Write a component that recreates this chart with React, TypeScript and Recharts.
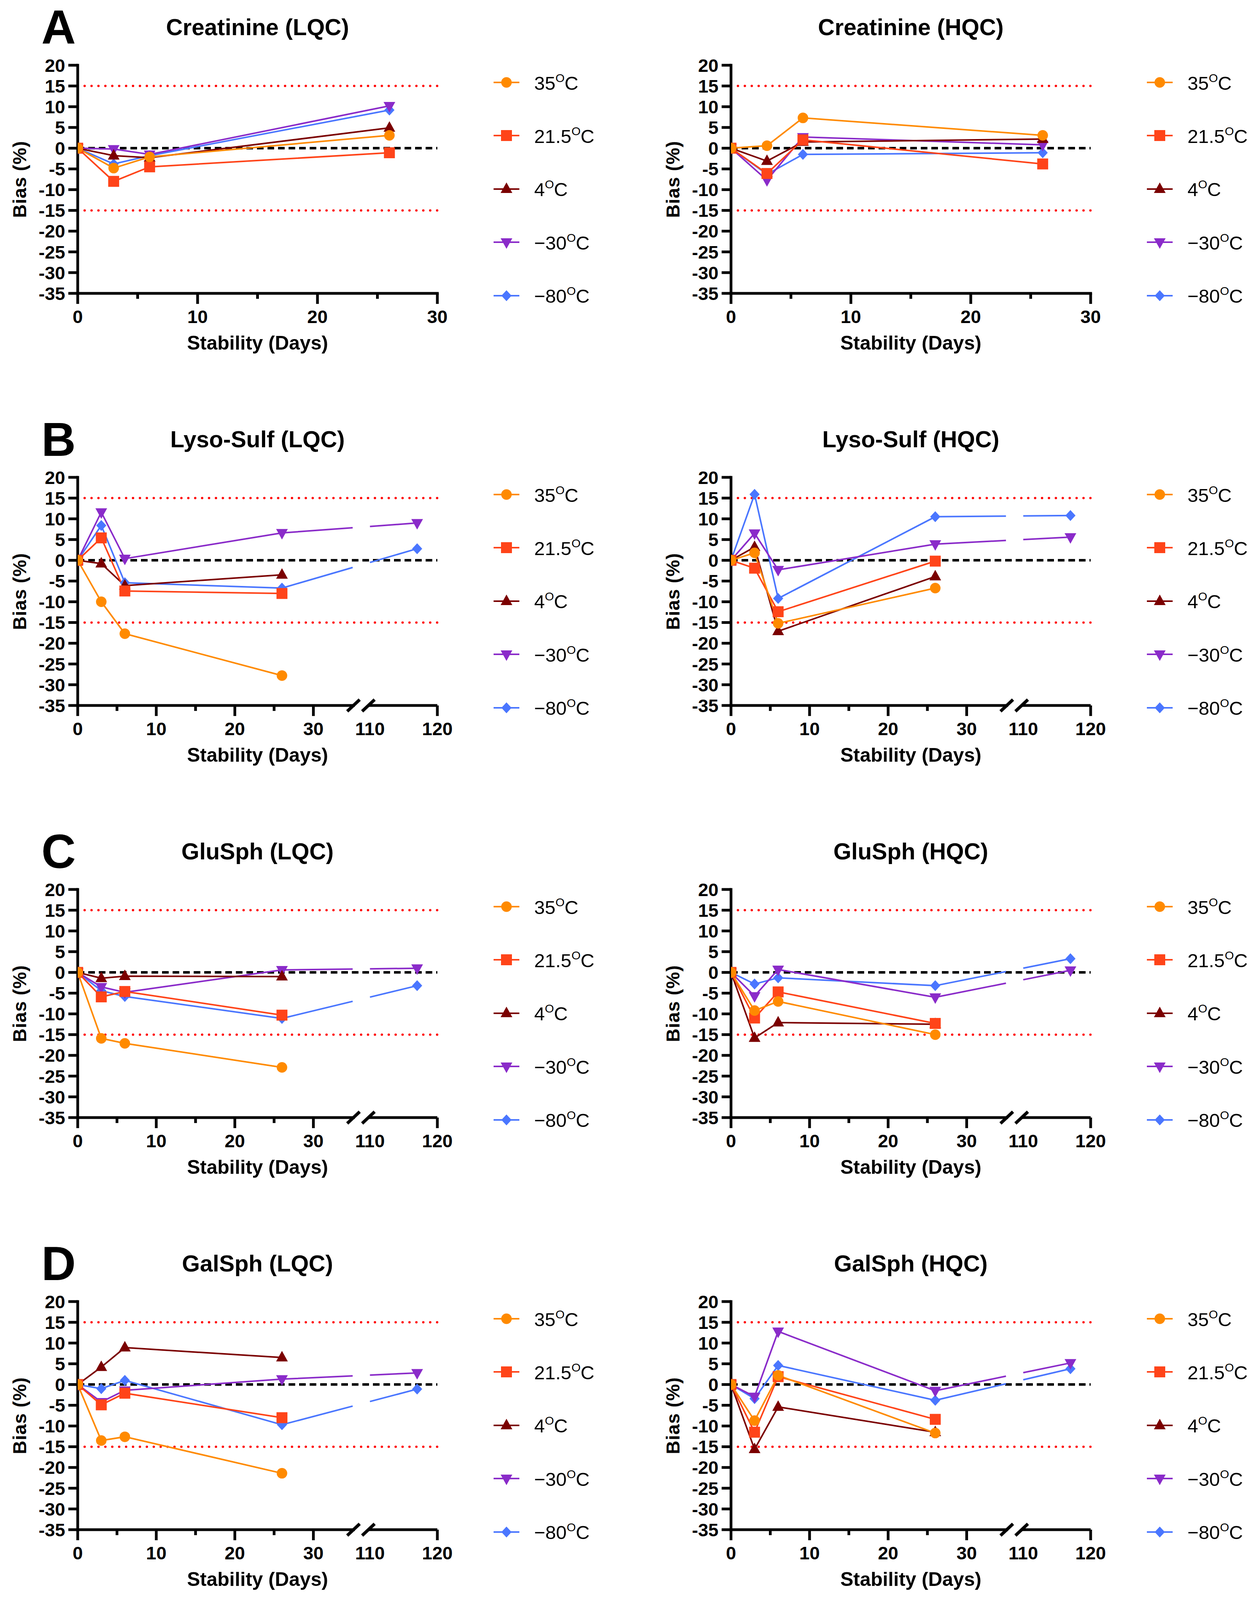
import { LineChart, Line, XAxis, YAxis, ReferenceLine, Legend, Label } from 'recharts';

const FONT = '"Liberation Sans", Arial, Helvetica, sans-serif';

// sampling days (last one only for the frozen samples, after the axis break)
const DAYS = [0, 3, 6, 26, 117];
const TEMPS = ['35', '21.5', '4', '\u221230', '\u221280'];

// bias (%) per temperature, rows follow TEMPS
const CREAT_LQC = [
  [0, -4.8, -2.1, 3.1],
  [0, -8.0, -4.5, -1.1],
  [0, -1.8, -2.3, 4.9],
  [0, -0.2, -1.5, 10.2],
  [0, -3.8, -1.8, 9.2],
];
const CREAT_HQC = [
  [0, 0.6, 7.3, 3.1],
  [0, -6.1, 2.0, -3.8],
  [0, -3.1, 1.5, 2.2],
  [0, -7.7, 2.7, 0.8],
  [0, -6.3, -1.5, -1.1],
];
const LYSO_LQC = [
  [0, -10.0, -17.7, -27.8],
  [0, 5.4, -7.4, -8.0],
  [0, -0.8, -6.1, -3.5],
  [0, 11.6, 0.4, 6.6, 9.0],
  [0, 8.4, -5.4, -6.7, 2.8],
];
const LYSO_HQC = [
  [0, 1.8, -15.2, -6.7],
  [0, -1.9, -12.4, -0.2],
  [0, 3.2, -17.1, -3.9],
  [0, 6.5, -2.3, 3.9, 5.6],
  [0, 15.9, -9.2, 10.5, 10.8],
];
const GLU_LQC = [
  [0, -15.9, -17.1, -22.9],
  [0, -5.9, -4.6, -10.3],
  [0, -1.4, -0.9, -1.0],
  [0, -3.5, -4.8, 0.6, 1.0],
  [0, -4.4, -5.8, -11.1, -3.2],
];
const GLU_HQC = [
  [0, -9.2, -7.0, -15.0],
  [0, -11.0, -4.7, -12.3],
  [0, -15.8, -12.1, -12.5],
  [0, -5.7, 0.7, -6.0, 0.5],
  [0, -2.8, -1.3, -3.2, 3.3],
];
const GAL_LQC = [
  [0, -13.5, -12.6, -21.4],
  [0, -4.9, -2.1, -8.0],
  [0, 4.2, 8.9, 6.5],
  [0, -4.2, -1.4, 1.3, 2.8],
  [0, -1.0, 1.0, -9.7, -1.1],
];
const GAL_HQC = [
  [0, -8.7, 2.2, -11.7],
  [0, -11.5, 1.9, -8.4],
  [0, -15.6, -5.4, -11.5],
  [0, -2.9, 12.8, -1.5, 5.2],
  [0, -3.4, 4.6, -3.8, 3.8],
];

const PANEL_VALUES = [CREAT_LQC, CREAT_HQC, LYSO_LQC, LYSO_HQC, GLU_LQC, GLU_HQC, GAL_LQC, GAL_HQC];
const PANEL_TITLES = [
  'Creatinine (LQC)', 'Creatinine (HQC)',
  'Lyso-Sulf (LQC)', 'Lyso-Sulf (HQC)',
  'GluSph (LQC)', 'GluSph (HQC)',
  'GalSph (LQC)', 'GalSph (HQC)',
];
const ROW_LETTERS = ['A', 'B', 'C', 'D'];

const Y_TICKS = [-35, -30, -25, -20, -15, -10, -5, 0, 5, 10, 15, 20];
const X_TICK_DAYS = [0, 5, 10, 15, 20, 25, 30];
const X_TICK_DAYS_BROKEN = [0, 5, 10, 15, 20, 25, 30, 110, 120];

// styling
const COLORS = ['#FF8A00', '#FF4419', '#7B0000', '#8A2BC9', '#4A76FF'];
const SHAPES = ['circle', 'square', 'up', 'down', 'diamond'];

// layout: the page is 4324 tall; squeeze vertically if the visible viewport is shorter
const PAGE_W = 3219;
const PAGE_H = 4324;
const VIEW_H =
  typeof window !== 'undefined' && window.innerHeight > 0 ? Math.min(PAGE_H, window.innerHeight) : PAGE_H;
const FY = VIEW_H / PAGE_H;

const CHART_H = Math.floor(1114 * FY);
const PLOT_W = 921;
const PLOT_H = Math.round(617 * FY);
const TOP = Math.round(176 * FY);
const Y_AXIS_W = 120;
const X_AXIS_H = Math.round(170 * FY);
const BOTTOM = CHART_H - TOP - PLOT_H - X_AXIS_H;
const COL_LEFT = [0, 1610];
const COL_WIDTH = [1610, 1609];
const PLOT_LEFT = [199, 262];
const LEG_STEP = 144 * FY;

// broken x axis: 0-35 then 110-120 compressed
const P110 = 37.2;
const K2 = 0.858;
const pos = (d: number) => (d <= 35 ? d : P110 + (d - 110) * K2);
const XMAX_BROKEN = pos(120);
const AX1_END = 35.1;
const AX2_START = 37.0;
const GAP_A = 35.0;
const GAP_B = 37.2;

const Marker = ({ shape, cx, cy, color }: any) => {
  if (cx == null || cy == null) return <g />;
  switch (shape) {
    case 'circle':
      return <circle cx={cx} cy={cy} r={13.5} fill={color} />;
    case 'square':
      return <rect x={cx - 14} y={cy - 14} width={28} height={28} fill={color} />;
    case 'up':
      return <polygon points={`${cx},${cy - 17} ${cx - 15},${cy + 10} ${cx + 15},${cy + 10}`} fill={color} />;
    case 'down':
      return <polygon points={`${cx - 15},${cy - 10} ${cx + 15},${cy - 10} ${cx},${cy + 17}`} fill={color} />;
    default:
      return <polygon points={`${cx},${cy - 14} ${cx + 13},${cy} ${cx},${cy + 14} ${cx - 13},${cy}`} fill={color} />;
  }
};

const LegendBox = () => (
  <div style={{ position: 'relative', width: 340, height: 5 * LEG_STEP }}>
    {TEMPS.map((t, i) => (
      <div
        key={t}
        style={{ position: 'absolute', left: 0, top: i * LEG_STEP, height: 40, display: 'flex', alignItems: 'center', whiteSpace: 'nowrap' }}
      >
        <svg width={70} height={40} style={{ display: 'block' }}>
          <line x1={2} x2={68} y1={20} y2={20} stroke={COLORS[i]} strokeWidth={4} />
          <Marker shape={SHAPES[i]} cx={35} cy={20} color={COLORS[i]} />
        </svg>
        <span style={{ marginLeft: 36, position: 'relative', top: 5, fontFamily: FONT, fontSize: 49, color: '#000', lineHeight: '40px' }}>
          {t}
          <span style={{ fontSize: 30, position: 'relative', top: -20 }}>O</span>C
        </span>
      </div>
    ))}
  </div>
);

const BiasLabel = (p: any) => {
  const vb = p.viewBox ?? { x: 0, y: 0, width: 0, height: 0 };
  const cx = vb.x + vb.width - 149;
  const cy = vb.y + vb.height / 2;
  return (
    <text
      x={cx}
      y={cy}
      transform={`rotate(-90 ${cx} ${cy})`}
      textAnchor="middle"
      dominantBaseline="central"
      fontFamily={FONT}
      fontSize={48}
      fontWeight={700}
      letterSpacing={1}
      fill="#000"
    >
      Bias (%)
    </text>
  );
};

const makeXTick = (broken: boolean) => (props: any) => {
  const { x, y, payload } = props;
  const days = broken ? X_TICK_DAYS_BROKEN : X_TICK_DAYS;
  const d = days.find((v) => Math.abs(pos(v) - payload.value) < 1e-6) ?? 0;
  const major = d % 10 === 0;
  const len = d === 110 ? 0 : major ? 27 : 14;
  return (
    <g key={`xt-${d}`}>
      {len > 0 && <line x1={x} x2={x} y1={y} y2={y + len} stroke="#000" strokeWidth={7} />}
      {major && (
        <text x={x} y={y + 76} textAnchor="middle" fontFamily={FONT} fontSize={47} fontWeight={700} fill="#000">
          {d}
        </text>
      )}
    </g>
  );
};

function Panel({ index }: { index: number }) {
  const row = Math.floor(index / 2);
  const col = index % 2;
  const values = PANEL_VALUES[index];
  const broken = row > 0;
  const width = COL_WIDTH[col];
  const plotLeft = PLOT_LEFT[col];
  const xMax = broken ? XMAX_BROKEN : 30;
  const sx = PLOT_W / xMax;
  const sy = PLOT_H / 55;
  const slashDx = 16 / sx;
  const slashDy = 15 / sy;
  const tickDays = broken ? X_TICK_DAYS_BROKEN : X_TICK_DAYS;

  const order = [4, 3, 2, 1, 0];

  return (
    <div style={{ position: 'relative', width, height: CHART_H }}>
      <LineChart
        width={width}
        height={CHART_H}
        margin={{ top: TOP, right: width - plotLeft - PLOT_W, bottom: BOTTOM, left: plotLeft - Y_AXIS_W }}
      >
        <XAxis
          type="number"
          dataKey="x"
          domain={[0, xMax]}
          ticks={tickDays.map(pos)}
          interval={0}
          allowDataOverflow
          height={X_AXIS_H}
          tickSize={0}
          tickMargin={0}
          tickLine={false}
          axisLine={broken ? false : { stroke: '#000', strokeWidth: 7, strokeLinecap: 'square' }}
          tick={makeXTick(broken)}
        >
          <Label
            value="Stability (Days)"
            position="insideBottom"
            offset={X_AXIS_H - Math.round(152 * FY)}
            fontFamily={FONT}
            fontSize={50}
            fontWeight={700}
            fill="#000"
          />
        </XAxis>
        <YAxis
          type="number"
          domain={[-35, 20]}
          ticks={Y_TICKS}
          interval={0}
          allowDataOverflow
          width={Y_AXIS_W}
          tickSize={24}
          tickMargin={8}
          axisLine={{ stroke: '#000', strokeWidth: 7, strokeLinecap: 'square' }}
          tickLine={{ stroke: '#000', strokeWidth: 7 }}
          tick={{ fontFamily: FONT, fontSize: 47, fontWeight: 700, fill: '#000' }}
        >
          <Label content={BiasLabel} />
        </YAxis>

        <ReferenceLine y={15} stroke="#FF0000" strokeWidth={6} strokeDasharray="0.1 17.6" strokeLinecap="round" />
        <ReferenceLine y={-15} stroke="#FF0000" strokeWidth={6} strokeDasharray="0.1 17.6" strokeLinecap="round" />
        <ReferenceLine y={0} stroke="#000" strokeWidth={6.5} strokeDasharray="17 10" />

        {broken && (
          <ReferenceLine
            segment={[{ x: 0, y: -35 }, { x: AX1_END, y: -35 }]}
            stroke="#000"
            strokeWidth={7}
            strokeLinecap="square"
            ifOverflow="visible"
          />
        )}
        {broken && (
          <ReferenceLine
            segment={[{ x: AX2_START, y: -35 }, { x: xMax, y: -35 }]}
            stroke="#000"
            strokeWidth={7}
            ifOverflow="visible"
          />
        )}
        {broken &&
          [AX1_END, AX2_START].map((c) => (
            <ReferenceLine
              key={`sl-${c}`}
              segment={[{ x: c - slashDx, y: -35 - slashDy }, { x: c + slashDx, y: -35 + slashDy }]}
              stroke="#000"
              strokeWidth={8}
              ifOverflow="visible"
            />
          ))}

        {order.map((i) => {
          const vals = values[i];
          const main = vals.slice(0, 4).map((v, j) => ({ x: pos(DAYS[j]), y: v }));
          return (
            <Line
              key={`m-${i}`}
              data={main}
              dataKey="y"
              name={TEMPS[i]}
              stroke={COLORS[i]}
              strokeWidth={4}
              activeDot={false}
              isAnimationActive={false}
              dot={(p: any) => (
                <Marker key={`d-${i}-${p.index}`} shape={SHAPES[i]} cx={p.cx} cy={p.cy} color={COLORS[i]} />
              )}
            />
          );
        })}

        {order
          .filter((i) => values[i].length > 4)
          .map((i) => {
            const vals = values[i];
            const x1 = pos(DAYS[3]);
            const x2 = pos(DAYS[4]);
            const L = Math.hypot((x2 - x1) * sx, (vals[4] - vals[3]) * sy);
            const f1 = (GAP_A - x1) / (x2 - x1);
            const f2 = (GAP_B - x1) / (x2 - x1);
            const dash = `${f1 * L} ${(f2 - f1) * L} ${L * 2}`;
            const bridge = [
              { x: x1, y: vals[3] },
              { x: x2, y: vals[4] },
            ];
            return (
              <Line
                key={`b-${i}`}
                data={bridge}
                dataKey="y"
                legendType="none"
                stroke={COLORS[i]}
                strokeWidth={4}
                strokeDasharray={dash}
                activeDot={false}
                isAnimationActive={false}
                dot={(p: any) =>
                  p.index === 1 ? (
                    <Marker key={`bd-${i}`} shape={SHAPES[i]} cx={p.cx} cy={p.cy} color={COLORS[i]} />
                  ) : (
                    <g key={`bn-${i}`} />
                  )
                }
              />
            );
          })}

        <Legend
          layout="vertical"
          align="center"
          verticalAlign="middle"
          content={() => <LegendBox />}
          wrapperStyle={{ left: plotLeft + 1063, top: TOP + Math.round(46 * FY) - 20, width: 340 }}
        />
      </LineChart>

      <svg
        width={width}
        height={CHART_H}
        style={{ position: 'absolute', left: 0, top: 0, pointerEvents: 'none', overflow: 'visible' }}
      >
        {col === 0 && (
          <text x={106} y={Math.round(25 * FY) + 88} fontFamily={FONT} fontSize={122} fontWeight={700} fill="#000">
            {ROW_LETTERS[row]}
          </text>
        )}
        <text
          x={plotLeft + PLOT_W / 2}
          y={Math.round(95 * FY)}
          textAnchor="middle"
          fontFamily={FONT}
          fontSize={59}
          fontWeight={700}
          fill="#000"
        >
          {PANEL_TITLES[index]}
        </text>
      </svg>
    </div>
  );
}

export default function App() {
  return (
    <div style={{ position: 'relative', width: PAGE_W, height: VIEW_H, margin: -8, background: '#fff', overflow: 'hidden' }}>
      {PANEL_VALUES.map((_, k) => (
        <div
          key={k}
          style={{ position: 'absolute', left: COL_LEFT[k % 2], top: Math.floor(k / 2) * CHART_H, width: COL_WIDTH[k % 2], height: CHART_H }}
        >
          <Panel index={k} />
        </div>
      ))}
    </div>
  );
}
